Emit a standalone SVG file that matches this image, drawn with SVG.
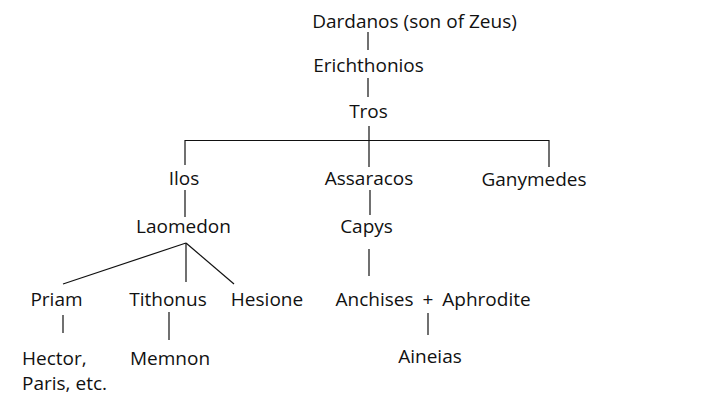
<svg xmlns="http://www.w3.org/2000/svg" width="720" height="405" viewBox="0 0 720 405">
<style>
text{font-family:"Open Sans","Noto Sans",sans-serif;font-size:19px;fill:#111;text-anchor:middle}
.l{text-anchor:start}
#connectors line{stroke:#111;stroke-width:1.2;fill:none}
</style>
<rect width="720" height="405" fill="#fff"/>
<g id="connectors">
<line x1="368" y1="32" x2="368" y2="50"/>
<line x1="368" y1="78" x2="368" y2="97"/>
<line x1="369" y1="126" x2="369" y2="167"/>
<line x1="185" y1="140.5" x2="549" y2="140.5"/>
<line x1="185" y1="140" x2="185" y2="165"/>
<line x1="549" y1="140" x2="549" y2="167"/>
<line x1="185" y1="190" x2="185" y2="217"/>
<line x1="370" y1="190" x2="370" y2="215"/>
<line x1="186" y1="243" x2="63" y2="284"/>
<line x1="186" y1="243" x2="186" y2="282"/>
<line x1="186" y1="243" x2="234" y2="284"/>
<line x1="369" y1="249" x2="369" y2="276"/>
<line x1="63" y1="315" x2="63" y2="333"/>
<line x1="169" y1="312" x2="169" y2="340"/>
<line x1="428" y1="313" x2="428" y2="335"/>
</g>
<g id="dardanos"><text x="414.5" y="28">Dardanos (son of Zeus)</text></g>
<g id="erichthonios"><text x="368.5" y="72">Erichthonios</text></g>
<g id="tros"><text x="368.5" y="118">Tros</text></g>
<g id="ilos"><text x="184" y="185">Ilos</text></g>
<g id="assaracos"><text x="369" y="185">Assaracos</text></g>
<g id="ganymedes"><text x="534" y="186">Ganymedes</text></g>
<g id="laomedon"><text x="183.5" y="233">Laomedon</text></g>
<g id="capys"><text x="366.5" y="233">Capys</text></g>
<g id="priam"><text x="56.5" y="306">Priam</text></g>
<g id="tithonus"><text x="168" y="306">Tithonus</text></g>
<g id="hesione"><text x="267" y="306">Hesione</text></g>
<g id="anchises"><text x="374.5" y="306">Anchises</text><text x="428" y="306">+</text></g>
<g id="aphrodite"><text x="486.5" y="306">Aphrodite</text></g>
<g id="hector"><text class="l" x="22" y="365">Hector,</text><text class="l" x="22" y="390">Paris, etc.</text></g>
<g id="memnon"><text x="170" y="365">Memnon</text></g>
<g id="aineias"><text x="430" y="363">Aineias</text></g>
</svg>
